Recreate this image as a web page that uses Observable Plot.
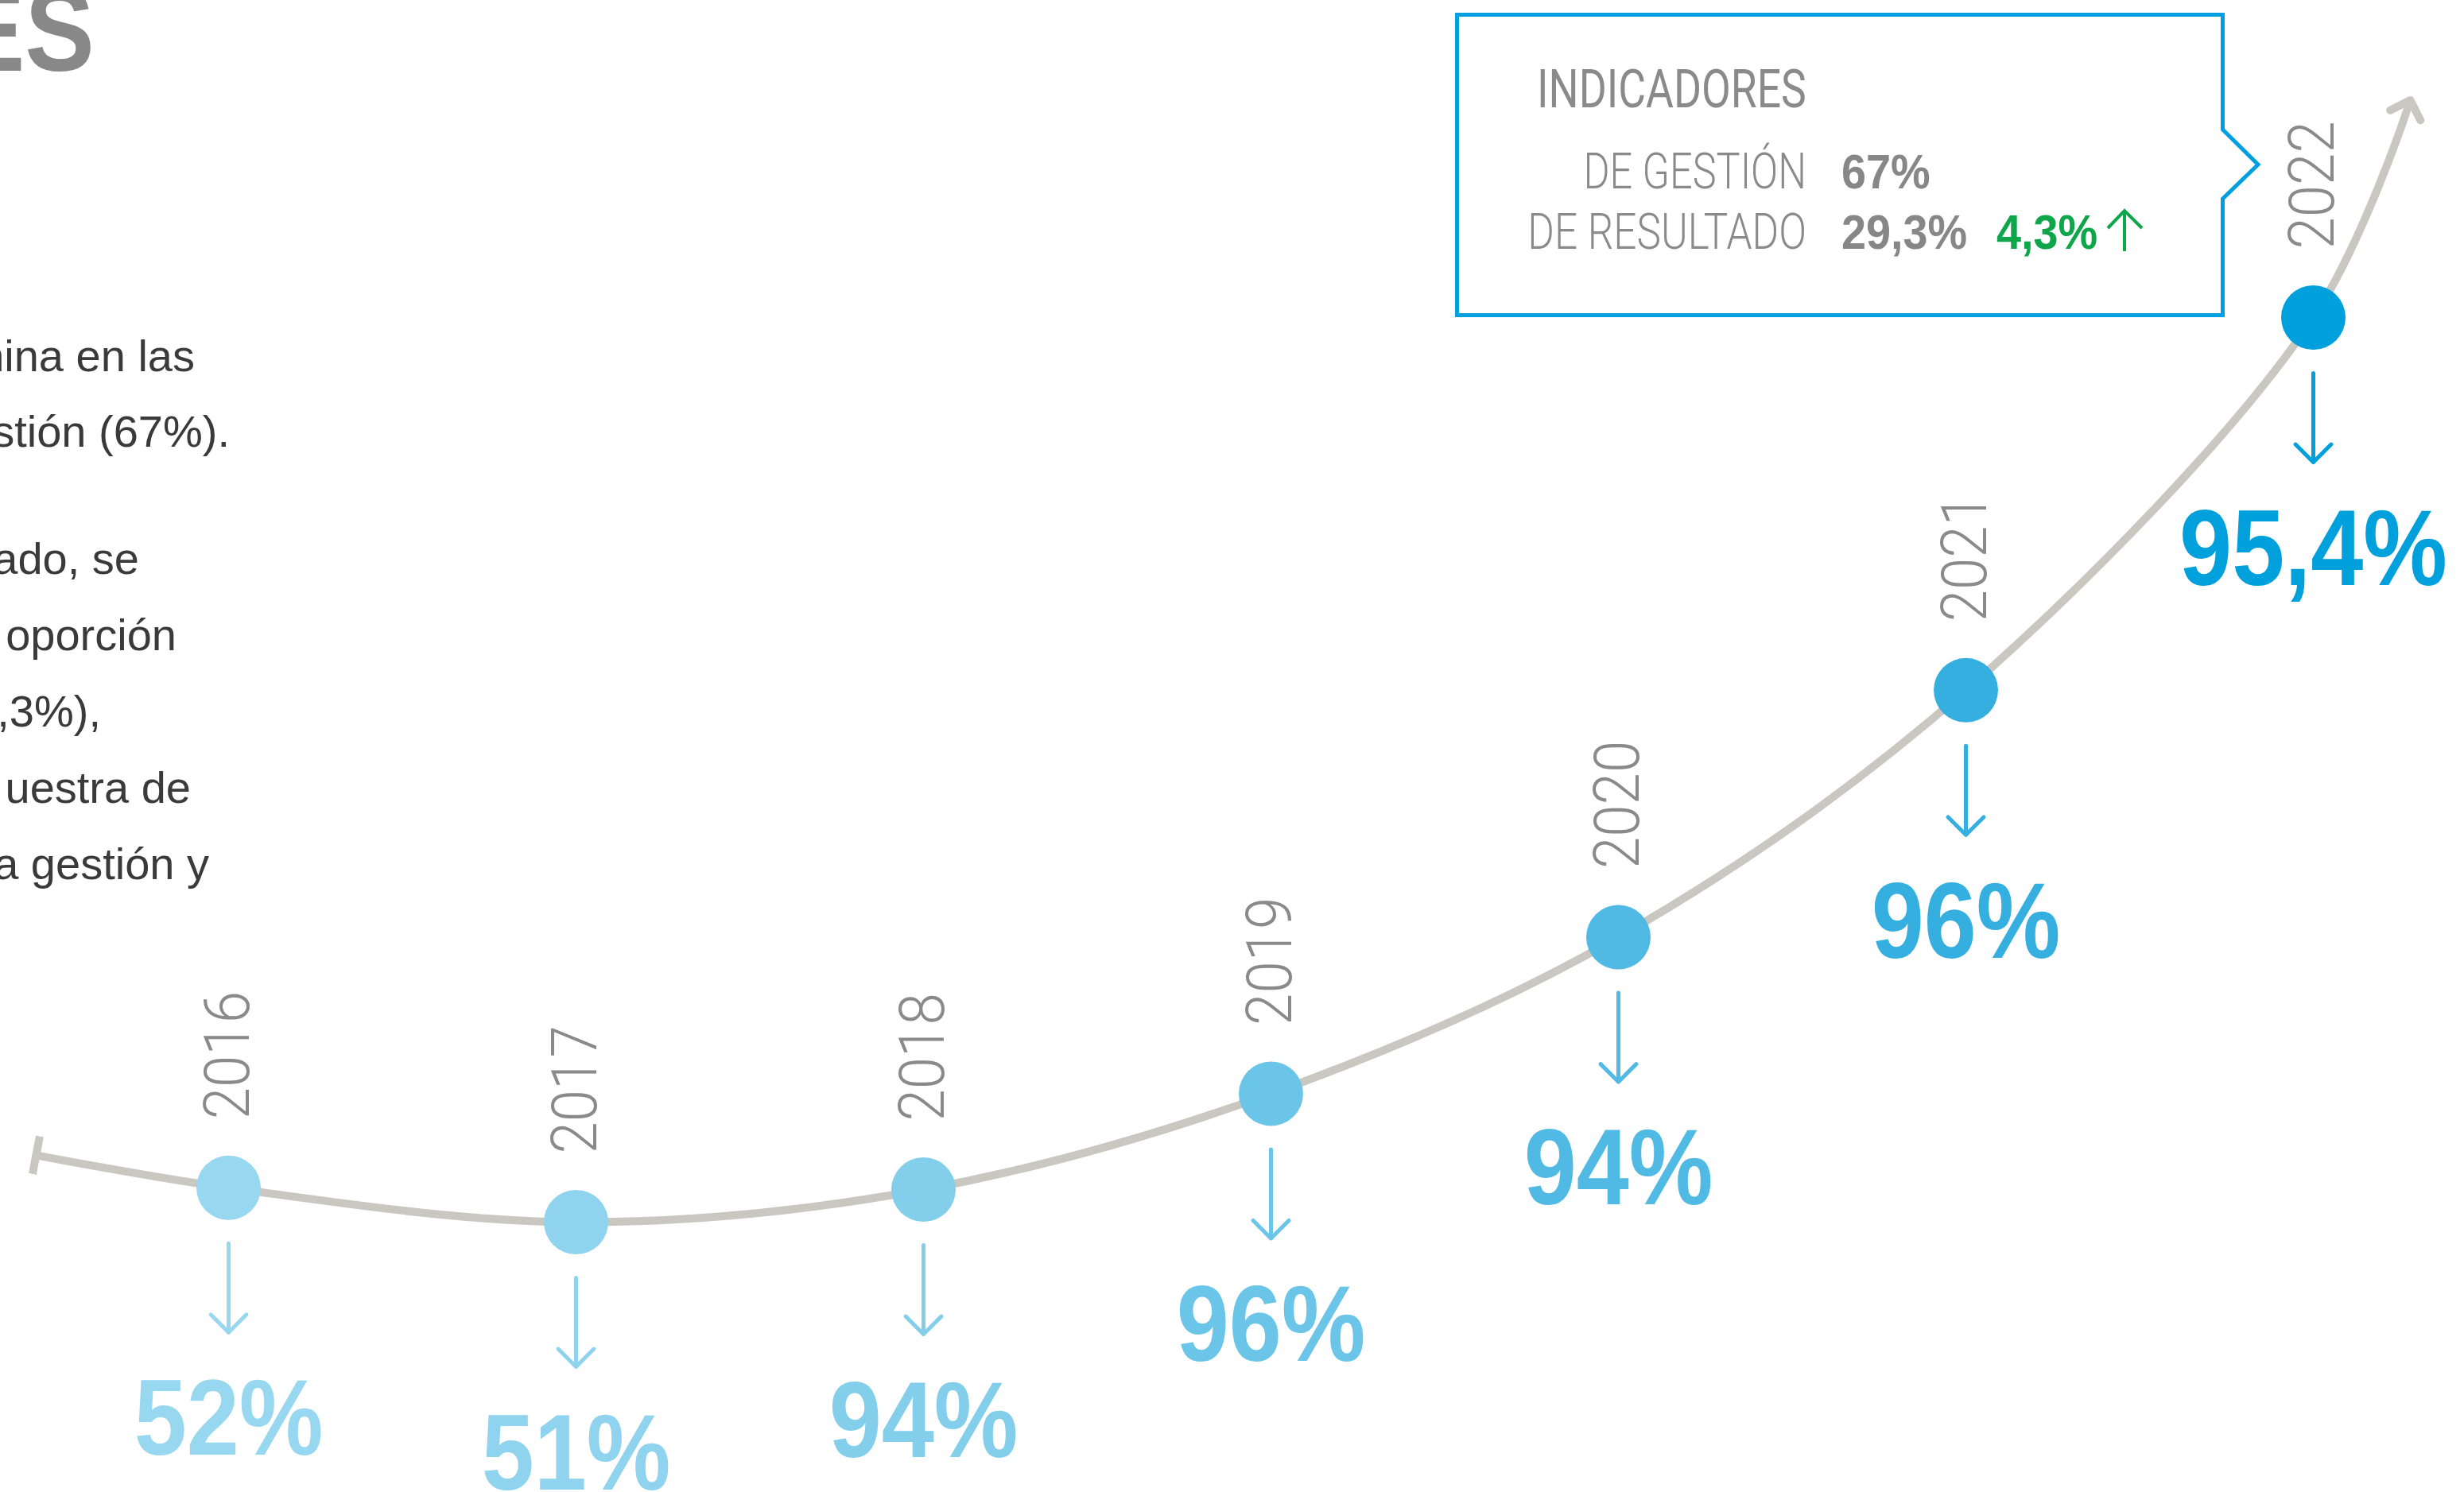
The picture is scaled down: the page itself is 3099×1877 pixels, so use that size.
<!DOCTYPE html>
<html lang="es">
<head>
<meta charset="utf-8">
<script src="https://cdn.jsdelivr.net/npm/d3@7"></script>
<script src="https://cdn.jsdelivr.net/npm/@observablehq/plot@0.6"></script>
<style>
  html, body { margin: 0; padding: 0; background: #ffffff; }
  #wrap { position: relative; width: 3099px; height: 1877px; overflow: hidden; background: #ffffff; }
  #chart { position: absolute; left: 0; top: 0; }
  #overlay { position: absolute; left: 0; top: 0; pointer-events: none; }
</style>
</head>
<body>
<div id="wrap">
  <div id="chart"></div>
  <svg id="overlay" width="3099" height="1877" viewBox="0 0 3099 1877" xmlns="http://www.w3.org/2000/svg">
    <!-- título (recortado) -->
    <text transform="translate(119,89) scale(0.9,1)" text-anchor="end" font-family="Liberation Sans, Arial, sans-serif" font-weight="700" font-size="146" fill="#888888">ES</text>
    <!-- párrafo (recortado) -->
    <g font-family="Liberation Sans, Arial, sans-serif" font-size="56" fill="#3a3a3a" text-anchor="end">
      <text x="245" y="467">nina en las</text>
      <text x="289" y="562">stión (67%).</text>
      <text x="175" y="722">ado, se</text>
      <text x="222" y="818">oporción</text>
      <text x="127" y="914">,3%),</text>
      <text x="240" y="1010">uestra de</text>
      <text x="263" y="1106">a gestión y</text>
    </g>
    <!-- recuadro de indicadores -->
    <path d="M1832.5,18.5 H2795.5 V163 L2840,207 L2795.5,250 V396.5 H1832.5 Z" fill="#ffffff" stroke="#009fdf" stroke-width="5"/>
    <text transform="translate(1933,135) scale(0.81,1)" font-family="Roboto, sans-serif" font-weight="400" font-size="66" fill="#8a8a8a">INDICADORES</text>
    <text transform="translate(2272,237) scale(0.8,1)" text-anchor="end" font-family="Roboto, sans-serif" font-weight="300" font-size="63" fill="#8a8a8a">DE GESTIÓN</text>
    <text transform="translate(2272,313) scale(0.815,1)" text-anchor="end" font-family="Roboto, sans-serif" font-weight="300" font-size="63" fill="#8a8a8a">DE RESULTADO</text>
    <text transform="translate(2316,237) scale(0.9,1)" font-family="Liberation Sans, Arial, sans-serif" font-weight="700" font-size="62" fill="#878787">67%</text>
    <text transform="translate(2316,313) scale(0.9,1)" font-family="Liberation Sans, Arial, sans-serif" font-weight="700" font-size="62" fill="#878787">29,3%</text>
    <text transform="translate(2511,313) scale(0.9,1)" font-family="Liberation Sans, Arial, sans-serif" font-weight="700" font-size="62" fill="#0ea54b">4,3%</text>
    <path d="M2672,316 V266 M2651,287 L2672,265 L2694,287" fill="none" stroke="#0ea54b" stroke-width="4"/>
  </svg>
</div>
<script>
// ---- Datos ----
const anios = [2016, 2017, 2018, 2019, 2020, 2021, 2022];
const valores = ["52%", "51%", "94%", "96%", "94%", "96%", "95,4%"];
// altura relativa de cada punto sobre la curva de evolución
const nivel = [3.8, 0, 3.6, 14.2, 31.5, 58.8, 100];
const colores = ["#98d7f0", "#8fd3ee", "#83cfeb", "#6bc5e8", "#50bae4", "#35afe0", "#00a0dc"];
// extremos de la curva (inicio con tope, final con flecha)
const curvaInicio = {anio: 2015.446, nivel: 7.4};
const curvaFin = {anio: 2022.272, nivel: 123.2};

const puntos = anios.map((a, i) => ({anio: a, nivel: nivel[i], valor: valores[i], color: colores[i]}));
const curva = [curvaInicio, ...puntos.map(d => ({anio: d.anio, nivel: d.nivel})), curvaFin];

const chart = Plot.plot({
  width: 3099,
  height: 1877,
  margin: 0,
  x: {domain: [2016, 2022], range: [287, 2909], axis: null},
  y: {domain: [0, 100], range: [1537, 399], axis: null},
  color: {type: "identity"},
  style: {background: "transparent", overflow: "visible"},
  marks: [
    Plot.line(curva, {
      x: "anio", y: "nivel", curve: "catmull-rom",
      stroke: "#cac7c0", strokeWidth: 10,
      markerStart: "tick", markerEnd: "arrow"
    }),
    Plot.dot(puntos, {x: "anio", y: "nivel", r: 40.5, fill: "color", stroke: null}),
    Plot.vector(puntos, {
      x: "anio", y: "nivel", length: 112, rotate: 180, anchor: "start",
      stroke: "color", strokeWidth: 5, dy: 70
    }),
    Plot.text(puntos, {
      x: "anio", y: "nivel", text: d => String(d.anio), rotate: -90,
      textAnchor: "start", dy: -86, fontSize: 79, fontFamily: "Roboto, sans-serif",
      fontWeight: 300, fill: "#8a8a8a"
    }),
    Plot.text(puntos, {
      x: "anio", y: "nivel", text: "valor", dy: 293,
      fontSize: 135, fontWeight: 700, fontFamily: "Liberation Sans, Arial, sans-serif",
      fill: "color"
    })
  ]
});
document.getElementById("chart").appendChild(chart);

// condensar tipografías (estilo): grupos de texto en orden [años, valores]
const gruposTexto = chart.querySelectorAll('g[aria-label="text"]');
function condensar(g, k) {
  if (!g) return;
  g.querySelectorAll("text").forEach(t => {
    const tr = t.getAttribute("transform") || "";
    t.setAttribute("transform", `${tr} scale(${k},1)`);
  });
}
condensar(gruposTexto[0], 0.92);
condensar(gruposTexto[1], 0.88);

// tope del inicio de la curva: grosor y largo del marcador
chart.querySelectorAll("marker").forEach(m => {
  if (!m.hasAttribute("stroke-width")) {
    m.setAttribute("stroke-width", "1.25");
    m.setAttribute("markerWidth", "4.8");
    m.setAttribute("markerHeight", "4.8");
  }
});
</script>
</body>
</html>
